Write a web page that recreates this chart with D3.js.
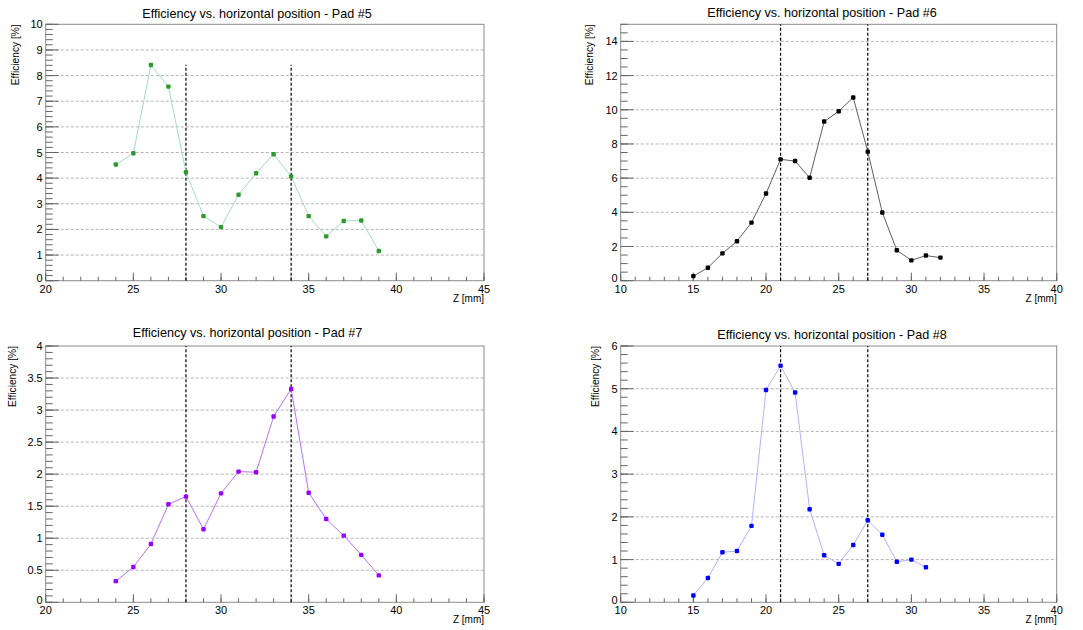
<!DOCTYPE html>
<html>
<head>
<meta charset="utf-8">
<script src="https://cdn.jsdelivr.net/npm/d3@7"></script>
<style>
  body { margin: 0; background: #fff; }
  svg { font-family: "Liberation Sans", Arial, sans-serif; }
</style>
</head>
<body>
<svg id="chart" width="1083" height="630"></svg>
<script>
// values
const pads = ["5", "6", "7", "8"];

const z5 = [24, 25, 26, 27, 28, 29, 30, 31, 32, 33, 34, 35, 36, 37, 38, 39];
const eff5 = [4.53, 4.97, 8.41, 7.57, 4.23, 2.52, 2.09, 3.35, 4.19, 4.93, 4.07, 2.52, 1.73, 2.33, 2.35, 1.16];

const z6 = [15, 16, 17, 18, 19, 20, 21, 22, 23, 24, 25, 26, 27, 28, 29, 30, 31, 32];
const eff6 = [0.27, 0.76, 1.6, 2.31, 3.4, 5.1, 7.1, 7.0, 6.02, 9.31, 9.91, 10.72, 7.55, 3.99, 1.78, 1.19, 1.47, 1.35];

const z7 = [24, 25, 26, 27, 28, 29, 30, 31, 32, 33, 34, 35, 36, 37, 38, 39];
const eff7 = [0.33, 0.55, 0.91, 1.53, 1.65, 1.14, 1.7, 2.04, 2.03, 2.9, 3.33, 1.71, 1.3, 1.04, 0.74, 0.42];

const z8 = [15, 16, 17, 18, 19, 20, 21, 22, 23, 24, 25, 26, 27, 28, 29, 30, 31];
const eff8 = [0.16, 0.57, 1.17, 1.2, 1.79, 4.97, 5.54, 4.91, 2.18, 1.1, 0.9, 1.34, 1.92, 1.58, 0.95, 1.0, 0.82];

const xRanges = [[20, 45], [10, 40], [20, 45], [10, 40]];
const yRanges = [[0, 10], [0, 15], [0, 4], [0, 6]];
const yMajor = [1, 2, 0.5, 1];
const yMinor = [0.2, 0.5, 0.1, 0.2];
const edges = [[28, 34], [21, 27], [28, 34], [21, 27]];
const edgeTop = [8.42, 15, 4, 6];

const zs = [z5, z6, z7, z8];
const effs = [eff5, eff6, eff7, eff8];
const markerColors = ["#2e9a2e", "#000000", "#9a00ff", "#0000ff"];
const lineColors = ["#a6dcc6", "#606060", "#b870ff", "#b0b4ff"];

// layout of the 2x2 pads
const frames = [
  { left: 45.7, right: 484, top: 24.3, bottom: 280.7, titleX: 257, titleY: 18, ylabX: 15 },
  { left: 620.7, right: 1056.7, top: 24.3, bottom: 280.7, titleX: 822, titleY: 17, ylabX: 589 },
  { left: 45.7, right: 484, top: 346, bottom: 602.3, titleX: 247.5, titleY: 337, ylabX: 12 },
  { left: 620.7, right: 1056.7, top: 346, bottom: 602.3, titleX: 832, titleY: 339, ylabX: 595 }
];

const svg = d3.select("#chart");

function fmt(v) {
  return d3.format("~g")(+v.toFixed(3));
}

pads.forEach((pad, i) => {
  const f = frames[i];
  const g = svg.append("g");

  const x = d3.scaleLinear().domain(xRanges[i]).range([f.left, f.right]);
  const y = d3.scaleLinear().domain(yRanges[i]).range([f.bottom, f.top]);

  const yMaj = d3.range(yRanges[i][0], yRanges[i][1] + 1e-9, yMajor[i]);
  const yMin = d3.range(yRanges[i][0], yRanges[i][1] + 1e-9, yMinor[i]);
  const xMaj = d3.range(xRanges[i][0], xRanges[i][1] + 1e-9, 5);
  const xMin = d3.range(xRanges[i][0], xRanges[i][1] + 1e-9, 1);

  // horizontal grid
  g.selectAll(".grid")
    .data(yMaj.filter((v) => v > yRanges[i][0] && v < yRanges[i][1]))
    .enter()
    .append("line")
    .attr("x1", f.left)
    .attr("x2", f.right)
    .attr("y1", (d) => y(d))
    .attr("y2", (d) => y(d))
    .attr("stroke", "#b4b4b4")
    .attr("stroke-width", 1)
    .attr("stroke-dasharray", "3,2");

  // frame
  g.append("rect")
    .attr("x", f.left)
    .attr("y", f.top)
    .attr("width", f.right - f.left)
    .attr("height", f.bottom - f.top)
    .attr("fill", "none")
    .attr("stroke", "#8c8c8c")
    .attr("stroke-width", 1);

  // y ticks (inside the frame)
  g.selectAll(".ymin")
    .data(yMin)
    .enter()
    .append("line")
    .attr("x1", f.left)
    .attr("x2", f.left + 7)
    .attr("y1", (d) => y(d))
    .attr("y2", (d) => y(d))
    .attr("stroke", "#666");
  g.selectAll(".ymaj")
    .data(yMaj)
    .enter()
    .append("line")
    .attr("x1", f.left)
    .attr("x2", f.left + 13)
    .attr("y1", (d) => y(d))
    .attr("y2", (d) => y(d))
    .attr("stroke", "#666");

  // x ticks
  g.selectAll(".xmin")
    .data(xMin)
    .enter()
    .append("line")
    .attr("x1", (d) => x(d))
    .attr("x2", (d) => x(d))
    .attr("y1", f.bottom)
    .attr("y2", f.bottom - 4)
    .attr("stroke", "#666");
  g.selectAll(".xmaj")
    .data(xMaj)
    .enter()
    .append("line")
    .attr("x1", (d) => x(d))
    .attr("x2", (d) => x(d))
    .attr("y1", f.bottom)
    .attr("y2", f.bottom - 8)
    .attr("stroke", "#666");

  // tick labels (the zero sits a bit higher so it clears the first x label)
  g.selectAll(".ylab")
    .data(yMaj)
    .enter()
    .append("text")
    .attr("x", f.left - 3)
    .attr("y", (d) => (d === 0 ? y(d) + 1.5 : y(d) + 4))
    .attr("text-anchor", "end")
    .attr("font-size", 11)
    .text(fmt);
  g.selectAll(".xlab")
    .data(xMaj)
    .enter()
    .append("text")
    .attr("x", (d) => x(d))
    .attr("y", f.bottom + 12)
    .attr("text-anchor", "middle")
    .attr("font-size", 11)
    .text(fmt);

  // axis titles
  g.append("text")
    .attr("transform", `translate(${f.ylabX + 3.5},${f.top}) rotate(-90)`)
    .attr("text-anchor", "end")
    .attr("font-size", 10.2)
    .text("Efficiency [%]");
  g.append("text")
    .attr("x", f.right)
    .attr("y", f.bottom + 21)
    .attr("text-anchor", "end")
    .attr("font-size", 10)
    .text("Z [mm]");

  // title
  g.append("text")
    .attr("x", f.titleX)
    .attr("y", f.titleY)
    .attr("text-anchor", "middle")
    .attr("font-size", 12.6)
    .text(`Efficiency vs. horizontal position - Pad #${pad}`);

  // pad edges
  g.selectAll(".edge")
    .data(edges[i])
    .enter()
    .append("line")
    .attr("x1", (d) => x(d))
    .attr("x2", (d) => x(d))
    .attr("y1", y(0))
    .attr("y2", y(edgeTop[i]))
    .attr("stroke", "#000")
    .attr("stroke-width", 1.2)
    .attr("stroke-dasharray", "3,2");

  // the graph
  const pts = zs[i].map((v, k) => ({ z: v, e: effs[i][k] }));
  g.append("path")
    .datum(pts)
    .attr("fill", "none")
    .attr("stroke", lineColors[i])
    .attr("stroke-width", 1)
    .attr("d", d3.line().x((d) => x(d.z)).y((d) => y(d.e)));

  g.selectAll(".pt")
    .data(pts)
    .enter()
    .append("rect")
    .attr("x", (d) => x(d.z) - 2.2)
    .attr("y", (d) => y(d.e) - 2.2)
    .attr("width", 4.4)
    .attr("height", 4.4)
    .attr("rx", 1.2)
    .attr("fill", markerColors[i]);
});
</script>
</body>
</html>
